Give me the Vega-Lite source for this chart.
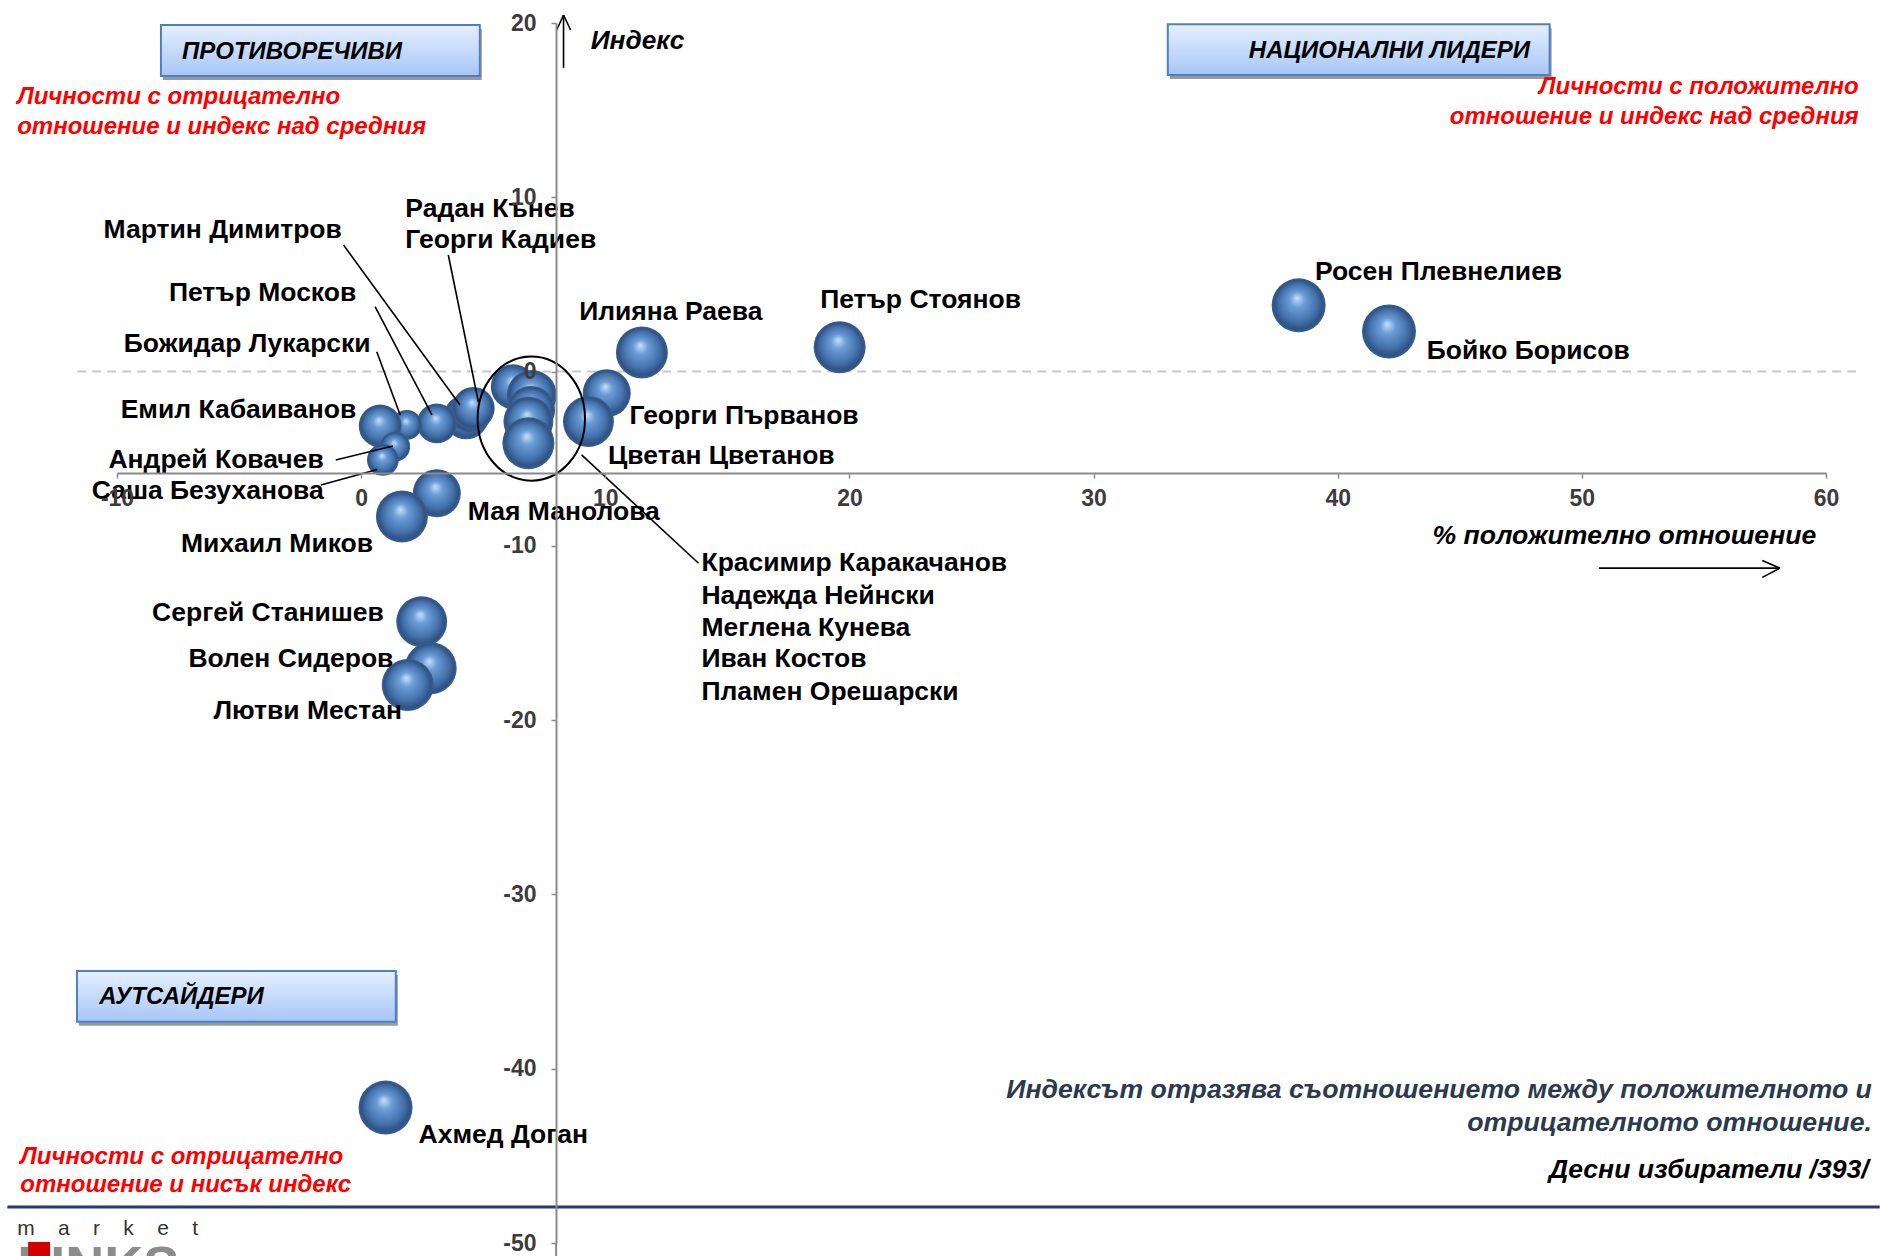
{
  "$schema": "https://vega.github.io/schema/vega-lite/v6.json",
  "width": 1709,
  "height": 1220,
  "autosize": {"type": "none"},
  "padding": {"left": 117, "top": 23, "right": 54, "bottom": 13},
  "background": "white",
  "config": {"view": {"stroke": null}, "font": "Liberation Sans"},
  "datasets": {
    "hlines": [
      {"kind": "zero", "x": -11.63, "x2": 61.26, "y": 0},
      {"kind": "footer", "x": -14.49, "x2": 62.2, "y": -47.93}
    ],
    "boxes": [
      {"label": "ПРОТИВОРЕЧИВИ", "x": -8.2, "x2": 4.86, "y": 19.89, "y2": 16.96, "lx": -7.34, "ly": 18.35},
      {"label": "НАЦИОНАЛНИ ЛИДЕРИ", "x": 33.04, "x2": 48.68, "y": 19.93, "y2": 17.02, "lx": 36.36, "ly": 18.41},
      {"label": "АУТСАЙДЕРИ", "x": -11.64, "x2": 1.42, "y": -34.39, "y2": -37.3, "lx": -10.73, "ly": -35.86}
    ],
    "people": [
      {"name": "Росен Плевнелиев", "x": 38.4, "y": 3.8, "b": 81, "lx": 39.07, "ly": 5.71, "side": "left"},
      {"name": "Бойко Борисов", "x": 42.1, "y": 2.3, "b": 81, "lx": 43.65, "ly": 1.16, "side": "left"},
      {"name": "Петър Стоянов", "x": 19.6, "y": 1.4, "b": 75, "lx": 18.8, "ly": 4.12, "side": "left"},
      {"name": "Илияна Раева", "x": 11.5, "y": 1.1, "b": 75, "lx": 8.93, "ly": 3.44, "side": "left"},
      {"name": "Георги Първанов", "x": 10.06, "y": -1.24, "b": 64, "lx": 10.99, "ly": -2.55, "side": "left"},
      {"name": "Цветан Цветанов", "x": 9.31, "y": -2.87, "b": 72, "lx": 10.11, "ly": -4.82, "side": "left"},
      {"name": "Мартин Димитров", "x": 4.3, "y": -2.6, "b": 56, "lx": -0.79, "ly": 8.11, "side": "right"},
      {"name": "Георги Кадиев", "x": 4.5, "y": -2.3, "b": 50, "lx": 1.81, "ly": 7.56, "side": "left"},
      {"name": "Радан Кънев", "x": 4.6, "y": -2.1, "b": 50, "lx": 1.81, "ly": 9.35, "side": "left"},
      {"name": "Петър Москов", "x": 3.1, "y": -2.97, "b": 44, "lx": -0.2, "ly": 4.53, "side": "right"},
      {"name": "Божидар Лукарски", "x": 1.87, "y": -3.06, "b": 25, "lx": 0.39, "ly": 1.58, "side": "right"},
      {"name": "Емил Кабаиванов", "x": 0.78, "y": -3.12, "b": 51, "lx": -0.2, "ly": -2.2, "side": "right"},
      {"name": "Андрей Ковачев", "x": 1.39, "y": -4.31, "b": 25, "lx": -1.53, "ly": -5.09, "side": "right"},
      {"name": "Саша Безуханова", "x": 0.89, "y": -5.07, "b": 28, "lx": -1.53, "ly": -6.88, "side": "right"},
      {"name": "Красимир Каракачанов", "x": 6.23, "y": -0.87, "b": 56, "lx": 13.94, "ly": -11.01, "side": "left"},
      {"name": "Надежда Нейнски", "x": 6.99, "y": -1.34, "b": 69, "lx": 13.94, "ly": -12.87, "side": "left"},
      {"name": "Меглена Кунева", "x": 6.96, "y": -2.2, "b": 64, "lx": 13.94, "ly": -14.73, "side": "left"},
      {"name": "Иван Костов", "x": 6.85, "y": -2.87, "b": 69, "lx": 13.94, "ly": -16.52, "side": "left"},
      {"name": "Пламен Орешарски", "x": 6.85, "y": -4.11, "b": 75, "lx": 13.94, "ly": -18.37, "side": "left"},
      {"name": "Мая Манолова", "x": 3.1, "y": -6.98, "b": 64, "lx": 4.37, "ly": -8.06, "side": "left"},
      {"name": "Михаил Миков", "x": 1.67, "y": -8.32, "b": 75, "lx": 0.49, "ly": -9.91, "side": "right"},
      {"name": "Сергей Станишев", "x": 2.48, "y": -14.35, "b": 72, "lx": 0.93, "ly": -13.83, "side": "right"},
      {"name": "Волен Сидеров", "x": 2.85, "y": -17.02, "b": 75, "lx": 1.32, "ly": -16.52, "side": "right"},
      {"name": "Лютви Местан", "x": 1.91, "y": -17.98, "b": 75, "lx": 1.67, "ly": -19.47, "side": "right"},
      {"name": "Ахмед Доган", "x": 1.0, "y": -42.23, "b": 81, "lx": 2.35, "ly": -43.83, "side": "left"}
    ],
    "segments": [
      {"x": -0.72, "y": 7.26, "x2": 4.05, "y2": -1.92},
      {"x": 0.57, "y": 3.72, "x2": 2.9, "y2": -2.49},
      {"x": 0.64, "y": 1.14, "x2": 1.6, "y2": -2.49},
      {"x": 3.57, "y": 6.69, "x2": 4.8, "y2": -1.73},
      {"x": -1.04, "y": -5.07, "x2": 1.3, "y2": -4.27},
      {"x": -1.65, "y": -6.51, "x2": 0.66, "y2": -5.62},
      {"x": 9.03, "y": -4.78, "x2": 13.82, "y2": -11.0},
      {"x": 8.29, "y": 17.42, "x2": 8.29, "y2": 20.46},
      {"x": 8.01, "y": 19.6, "x2": 8.29, "y2": 20.46},
      {"x": 8.58, "y": 19.6, "x2": 8.29, "y2": 20.46},
      {"x": 50.7, "y": -11.28, "x2": 58.11, "y2": -11.28},
      {"x": 57.39, "y": -10.84, "x2": 58.11, "y2": -11.28},
      {"x": 57.39, "y": -11.81, "x2": 58.11, "y2": -11.28}
    ],
    "axisext": [{"x": 7.985, "y": -50, "y2": -50.9}],
    "group": [{"x": 6.97, "y": -2.7}],
    "notes": [
      {"kind": "red-left", "text": "Личности с отрицателно", "x": -14.09, "y": 15.77},
      {"kind": "red-left", "text": "отношение и индекс над средния", "x": -14.09, "y": 14.05},
      {"kind": "red-right", "text": "Личности с положително", "x": 61.34, "y": 16.31},
      {"kind": "red-right", "text": "отношение и индекс над средния", "x": 61.34, "y": 14.62},
      {"kind": "red-left", "text": "Личности с отрицателно", "x": -13.96, "y": -45.04},
      {"kind": "red-left", "text": "отношение и нисък индекс", "x": -13.96, "y": -46.67},
      {"kind": "dark", "text": "Индексът отразява съотношението между положителното и", "x": 61.88, "y": -41.22},
      {"kind": "dark", "text": "отрицателното отношение.", "x": 61.88, "y": -43.14},
      {"kind": "black-right", "text": "Десни избиратели /393/", "x": 61.75, "y": -45.81},
      {"kind": "black-right", "text": "% положително отношение", "x": 59.6, "y": -9.46},
      {"kind": "black-left", "text": "Индекс", "x": 9.4, "y": 18.98}
    ],
    "logo": [
      {"kind": "small", "text": "m\u00a0\u00a0\u00a0\u00a0a\u00a0\u00a0\u00a0\u00a0r\u00a0\u00a0\u00a0\u00a0k\u00a0\u00a0\u00a0\u00a0e\u00a0\u00a0\u00a0\u00a0t", "x": -14.09, "y": -49.19},
      {"kind": "big", "text": "LINKS", "x": -14.09, "y": -49.88},
      {"kind": "page", "text": "58", "x": 61.92, "y": -50.63}
    ],
    "logoblock": [{"x": -13.64, "x2": -12.74, "y": -49.94, "y2": -50.8}]
  },
  "layer": [
    {
      "data": {"name": "hlines"},
      "transform": [{"filter": "datum.kind === 'zero'"}],
      "mark": {"type": "rule", "color": "#c8c8c8", "strokeWidth": 2, "strokeDash": [9, 6], "clip": false},
      "encoding": {
        "x": {"field": "x", "type": "quantitative",
          "scale": {"domain": [-10, 60], "nice": false, "zero": false},
          "axis": {"title": null, "orient": "bottom", "offset": -770, "values": [-10, 0, 10, 20, 30, 40, 50, 60],
            "labelExpr": "'' + datum.value", "grid": false, "domainColor": "#8a8a8a", "domainWidth": 2,
            "tickColor": "#8a8a8a", "tickWidth": 1.5, "tickSize": 5, "labelFont": "Liberation Sans",
            "labelFontWeight": "bold", "labelFontSize": 23, "labelColor": "#3c3c3c", "labelPadding": 9,
            "labelOverlap": false, "labelFlush": false, "zindex": 1}},
        "x2": {"field": "x2"},
        "y": {"field": "y", "type": "quantitative",
          "scale": {"domain": [-50, 20], "nice": false, "zero": false},
          "axis": {"title": null, "orient": "left", "offset": -439, "values": [-50, -40, -30, -20, -10, 0, 10, 20],
            "labelExpr": "'' + datum.value", "grid": false, "domainColor": "#8a8a8a", "domainWidth": 2,
            "tickColor": "#8a8a8a", "tickWidth": 1.5, "tickSize": 5, "labelFont": "Liberation Sans",
            "labelFontWeight": "bold", "labelFontSize": 23, "labelColor": "#3c3c3c", "labelPadding": 15,
            "labelOverlap": false, "labelFlush": false, "zindex": 1}}
      }
    },
    {
      "data": {"name": "axisext"},
      "mark": {"type": "rule", "color": "#8a8a8a", "strokeWidth": 2, "clip": false},
      "encoding": {
        "x": {"field": "x", "type": "quantitative", "scale": {"domain": [-10, 60], "nice": false, "zero": false}, "axis": {"title": null}},
        "y": {"field": "y", "type": "quantitative", "scale": {"domain": [-50, 20], "nice": false, "zero": false}, "axis": {"title": null}},
        "y2": {"field": "y2"}
      }
    },
    {
      "data": {"name": "hlines"},
      "transform": [{"filter": "datum.kind === 'footer'"}],
      "mark": {"type": "rule", "color": "#24397a", "strokeWidth": 3, "clip": false},
      "encoding": {
        "x": {"field": "x", "type": "quantitative", "scale": {"domain": [-10, 60], "nice": false, "zero": false}, "axis": {"title": null}},
        "x2": {"field": "x2"},
        "y": {"field": "y", "type": "quantitative", "scale": {"domain": [-50, 20], "nice": false, "zero": false}, "axis": {"title": null}}
      }
    },
    {
      "data": {"name": "boxes"},
      "mark": {"type": "rect", "fill": "#9a9a9a", "xOffset": 2, "yOffset": 4, "x2Offset": 2, "y2Offset": 4, "clip": false},
      "encoding": {
        "x": {"field": "x", "type": "quantitative", "scale": {"domain": [-10, 60], "nice": false, "zero": false}, "axis": {"title": null}},
        "x2": {"field": "x2"},
        "y": {"field": "y", "type": "quantitative", "scale": {"domain": [-50, 20], "nice": false, "zero": false}, "axis": {"title": null}},
        "y2": {"field": "y2"}
      }
    },
    {
      "data": {"name": "boxes"},
      "mark": {"type": "rect", "clip": false, "stroke": "#4f7fc3", "strokeWidth": 2,
        "fill": {"gradient": "linear", "x1": 0, "y1": 0, "x2": 0, "y2": 1,
          "stops": [{"offset": 0, "color": "#e6efff"}, {"offset": 1, "color": "#a6c6f6"}]}},
      "encoding": {
        "x": {"field": "x", "type": "quantitative", "scale": {"domain": [-10, 60], "nice": false, "zero": false}, "axis": {"title": null}},
        "x2": {"field": "x2"},
        "y": {"field": "y", "type": "quantitative", "scale": {"domain": [-50, 20], "nice": false, "zero": false}, "axis": {"title": null}},
        "y2": {"field": "y2"}
      }
    },
    {
      "data": {"name": "boxes"},
      "mark": {"type": "text", "align": "left", "baseline": "middle", "font": "Liberation Sans", "fontWeight": "bold", "fontStyle": "italic", "fontSize": 24, "color": "#000000", "clip": false},
      "encoding": {
        "x": {"field": "lx", "type": "quantitative", "scale": {"domain": [-10, 60], "nice": false, "zero": false}, "axis": {"title": null}},
        "y": {"field": "ly", "type": "quantitative", "scale": {"domain": [-50, 20], "nice": false, "zero": false}, "axis": {"title": null}},
        "text": {"field": "label"}
      }
    },
    {
      "data": {"name": "people"},
      "mark": {"type": "point", "shape": "circle", "filled": true, "opacity": 1, "strokeWidth": 0, "clip": false,
        "fill": {"gradient": "radial", "x1": 0.47, "y1": 0.36, "r1": 0, "x2": 0.5, "y2": 0.5, "r2": 0.5,
          "stops": [{"offset": 0, "color": "#c4e2ff"}, {"offset": 0.28, "color": "#6d9dd6"}, {"offset": 0.7, "color": "#4371ab"}, {"offset": 0.9, "color": "#2f5384"}, {"offset": 1, "color": "#3c5f8c"}]}},
      "encoding": {
        "x": {"field": "x", "type": "quantitative", "scale": {"domain": [-10, 60], "nice": false, "zero": false}, "axis": {"title": null}},
        "y": {"field": "y", "type": "quantitative", "scale": {"domain": [-50, 20], "nice": false, "zero": false}, "axis": {"title": null}},
        "size": {"field": "b", "type": "quantitative", "scale": {"type": "linear", "domain": [0, 100], "range": [0, 3600], "zero": true}, "legend": null}
      }
    },
    {
      "data": {"name": "group"},
      "mark": {"type": "point", "filled": false, "stroke": "#000000", "strokeWidth": 2, "opacity": 1, "size": 11535, "clip": false,
        "shape": "M 1 0 C 1 0.638 0.5523 1.155 0 1.155 C -0.5523 1.155 -1 0.638 -1 0 C -1 -0.638 -0.5523 -1.155 0 -1.155 C 0.5523 -1.155 1 -0.638 1 0 Z"},
      "encoding": {
        "x": {"field": "x", "type": "quantitative", "scale": {"domain": [-10, 60], "nice": false, "zero": false}, "axis": {"title": null}},
        "y": {"field": "y", "type": "quantitative", "scale": {"domain": [-50, 20], "nice": false, "zero": false}, "axis": {"title": null}}
      }
    },
    {
      "data": {"name": "segments"},
      "mark": {"type": "rule", "color": "#000000", "strokeWidth": 1.6, "clip": false},
      "encoding": {
        "x": {"field": "x", "type": "quantitative", "scale": {"domain": [-10, 60], "nice": false, "zero": false}, "axis": {"title": null}},
        "x2": {"field": "x2"},
        "y": {"field": "y", "type": "quantitative", "scale": {"domain": [-50, 20], "nice": false, "zero": false}, "axis": {"title": null}},
        "y2": {"field": "y2"}
      }
    },
    {
      "data": {"name": "people"},
      "transform": [{"filter": "datum.side === 'left'"}],
      "mark": {"type": "text", "align": "left", "baseline": "middle", "font": "Liberation Sans", "fontWeight": "bold", "fontSize": 26.5, "color": "#000000", "clip": false},
      "encoding": {
        "x": {"field": "lx", "type": "quantitative", "scale": {"domain": [-10, 60], "nice": false, "zero": false}, "axis": {"title": null}},
        "y": {"field": "ly", "type": "quantitative", "scale": {"domain": [-50, 20], "nice": false, "zero": false}, "axis": {"title": null}},
        "text": {"field": "name"}
      }
    },
    {
      "data": {"name": "people"},
      "transform": [{"filter": "datum.side === 'right'"}],
      "mark": {"type": "text", "align": "right", "baseline": "middle", "font": "Liberation Sans", "fontWeight": "bold", "fontSize": 26.5, "color": "#000000", "clip": false},
      "encoding": {
        "x": {"field": "lx", "type": "quantitative", "scale": {"domain": [-10, 60], "nice": false, "zero": false}, "axis": {"title": null}},
        "y": {"field": "ly", "type": "quantitative", "scale": {"domain": [-50, 20], "nice": false, "zero": false}, "axis": {"title": null}},
        "text": {"field": "name"}
      }
    },
    {
      "data": {"name": "notes"},
      "transform": [{"filter": "datum.kind === 'red-left'"}],
      "mark": {"type": "text", "align": "left", "baseline": "middle", "font": "Liberation Sans", "fontWeight": "bold", "fontStyle": "italic", "fontSize": 24, "color": "#ff0000", "clip": false},
      "encoding": {
        "x": {"field": "x", "type": "quantitative", "scale": {"domain": [-10, 60], "nice": false, "zero": false}, "axis": {"title": null}},
        "y": {"field": "y", "type": "quantitative", "scale": {"domain": [-50, 20], "nice": false, "zero": false}, "axis": {"title": null}},
        "text": {"field": "text"}
      }
    },
    {
      "data": {"name": "notes"},
      "transform": [{"filter": "datum.kind === 'red-right'"}],
      "mark": {"type": "text", "align": "right", "baseline": "middle", "font": "Liberation Sans", "fontWeight": "bold", "fontStyle": "italic", "fontSize": 24, "color": "#ff0000", "clip": false},
      "encoding": {
        "x": {"field": "x", "type": "quantitative", "scale": {"domain": [-10, 60], "nice": false, "zero": false}, "axis": {"title": null}},
        "y": {"field": "y", "type": "quantitative", "scale": {"domain": [-50, 20], "nice": false, "zero": false}, "axis": {"title": null}},
        "text": {"field": "text"}
      }
    },
    {
      "data": {"name": "notes"},
      "transform": [{"filter": "datum.kind === 'dark'"}],
      "mark": {"type": "text", "align": "right", "baseline": "middle", "font": "Liberation Sans", "fontWeight": "bold", "fontStyle": "italic", "fontSize": 26.7, "color": "#2b3a4c", "clip": false},
      "encoding": {
        "x": {"field": "x", "type": "quantitative", "scale": {"domain": [-10, 60], "nice": false, "zero": false}, "axis": {"title": null}},
        "y": {"field": "y", "type": "quantitative", "scale": {"domain": [-50, 20], "nice": false, "zero": false}, "axis": {"title": null}},
        "text": {"field": "text"}
      }
    },
    {
      "data": {"name": "notes"},
      "transform": [{"filter": "datum.kind === 'black-right'"}],
      "mark": {"type": "text", "align": "right", "baseline": "middle", "font": "Liberation Sans", "fontWeight": "bold", "fontStyle": "italic", "fontSize": 26.6, "color": "#000000", "clip": false},
      "encoding": {
        "x": {"field": "x", "type": "quantitative", "scale": {"domain": [-10, 60], "nice": false, "zero": false}, "axis": {"title": null}},
        "y": {"field": "y", "type": "quantitative", "scale": {"domain": [-50, 20], "nice": false, "zero": false}, "axis": {"title": null}},
        "text": {"field": "text"}
      }
    },
    {
      "data": {"name": "notes"},
      "transform": [{"filter": "datum.kind === 'black-left'"}],
      "mark": {"type": "text", "align": "left", "baseline": "middle", "font": "Liberation Sans", "fontWeight": "bold", "fontStyle": "italic", "fontSize": 26.3, "color": "#000000", "clip": false},
      "encoding": {
        "x": {"field": "x", "type": "quantitative", "scale": {"domain": [-10, 60], "nice": false, "zero": false}, "axis": {"title": null}},
        "y": {"field": "y", "type": "quantitative", "scale": {"domain": [-50, 20], "nice": false, "zero": false}, "axis": {"title": null}},
        "text": {"field": "text"}
      }
    },
    {
      "data": {"name": "logo"},
      "transform": [{"filter": "datum.kind === 'big'"}],
      "mark": {"type": "text", "align": "left", "baseline": "top", "font": "Liberation Sans", "fontWeight": "bold", "fontSize": 54, "color": "#8c8c8c", "clip": false},
      "encoding": {
        "x": {"field": "x", "type": "quantitative", "scale": {"domain": [-10, 60], "nice": false, "zero": false}, "axis": {"title": null}},
        "y": {"field": "y", "type": "quantitative", "scale": {"domain": [-50, 20], "nice": false, "zero": false}, "axis": {"title": null}},
        "text": {"field": "text"}
      }
    },
    {
      "data": {"name": "logoblock"},
      "mark": {"type": "rect", "fill": "#d40000", "clip": false},
      "encoding": {
        "x": {"field": "x", "type": "quantitative", "scale": {"domain": [-10, 60], "nice": false, "zero": false}, "axis": {"title": null}},
        "x2": {"field": "x2"},
        "y": {"field": "y", "type": "quantitative", "scale": {"domain": [-50, 20], "nice": false, "zero": false}, "axis": {"title": null}},
        "y2": {"field": "y2"}
      }
    },
    {
      "data": {"name": "logo"},
      "transform": [{"filter": "datum.kind === 'small'"}],
      "mark": {"type": "text", "align": "left", "baseline": "middle", "font": "Liberation Sans", "fontSize": 21, "color": "#333333", "clip": false},
      "encoding": {
        "x": {"field": "x", "type": "quantitative", "scale": {"domain": [-10, 60], "nice": false, "zero": false}, "axis": {"title": null}},
        "y": {"field": "y", "type": "quantitative", "scale": {"domain": [-50, 20], "nice": false, "zero": false}, "axis": {"title": null}},
        "text": {"field": "text"}
      }
    },
    {
      "data": {"name": "logo"},
      "transform": [{"filter": "datum.kind === 'page'"}],
      "mark": {"type": "text", "align": "right", "baseline": "top", "font": "Liberation Sans", "fontWeight": "bold", "fontSize": 28, "color": "#000000", "clip": false},
      "encoding": {
        "x": {"field": "x", "type": "quantitative", "scale": {"domain": [-10, 60], "nice": false, "zero": false}, "axis": {"title": null}},
        "y": {"field": "y", "type": "quantitative", "scale": {"domain": [-50, 20], "nice": false, "zero": false}, "axis": {"title": null}},
        "text": {"field": "text"}
      }
    }
  ]
}
